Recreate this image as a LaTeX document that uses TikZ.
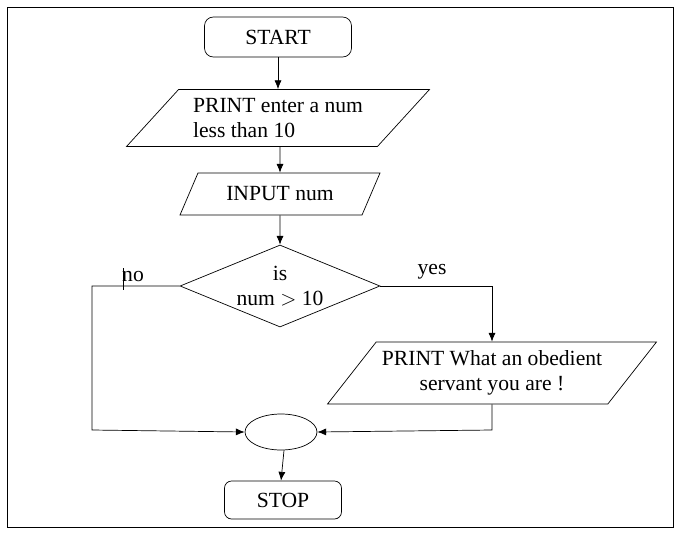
\documentclass[tikz,border=0pt]{standalone}
\usepackage{fontspec}
\setmainfont{Liberation Serif}
\usetikzlibrary{shapes.geometric,arrows.meta}
\tikzset{
  box/.style={draw,rounded corners=5pt,minimum width=2.94cm,minimum height=0.8cm},
  stopbox/.style={draw,rounded corners=4pt,minimum width=2.34cm,minimum height=0.76cm},
  io/.style={draw,trapezium,trapezium left angle=#1,trapezium right angle=180-#1,
    trapezium stretches body,align=left,inner sep=2pt},
  flow/.style={-{Latex[length=5pt,width=4pt]}},
}
\begin{document}
\begin{tikzpicture}[x=0.02cm,y=-0.02cm,font=\fontsize{12.3}{14.5}\selectfont]
\useasboundingbox (0,0) rectangle (682,534);
\draw (7,7) rectangle (673,527);
\node[box] (start) at (278,37) {START};
\node[io=42,minimum width=6.06cm,minimum height=1.14cm] (print1) at (278,118) {PRINT enter a num\\less than 10};
\node[io=50,minimum width=4.0cm,minimum height=0.84cm] (input) at (280,194) {INPUT num};
\node[draw,diamond,aspect=2.44,minimum width=4.0cm,minimum height=1.64cm,inner sep=0pt,align=center] (test) at (280,286) {is\\num $>$ 10};
\node[io=47,minimum width=6.58cm,minimum height=1.24cm,align=center] (print2) at (492,373) {PRINT What an obedient\\servant you are !};
\node[draw,ellipse,minimum width=1.44cm,minimum height=0.72cm] (join) at (281,432) {};
\node[stopbox] (stop) at (283,500) {STOP};
\coordinate (nocorner) at (92,286);
\coordinate (nobottom) at (92,430);
\coordinate (yescorner) at (492,286);
\coordinate (yesbottom) at (492,430);
\draw[flow] (start) -- (start|-print1.north);
\draw[flow] (print1.south-|input) -- (input);
\draw[flow] (input) -- (test);
\draw[flow] (test.east) -- (yescorner) -- (print2.north-|yescorner);
\draw[flow] (print2.south-|yesbottom) -- (yesbottom) -- (join.east);
\draw[flow] (test.west) -- (nocorner) -- (nobottom) -- (join.west);
\draw[flow] (join.south) ++(3,0) -- (stop.north-|join.south) ;
\draw (123,268) -- (123,290);
\node (no) at (133,277) {no};
\node (yes) at (432,272) {yes};
\end{tikzpicture}
\end{document}
